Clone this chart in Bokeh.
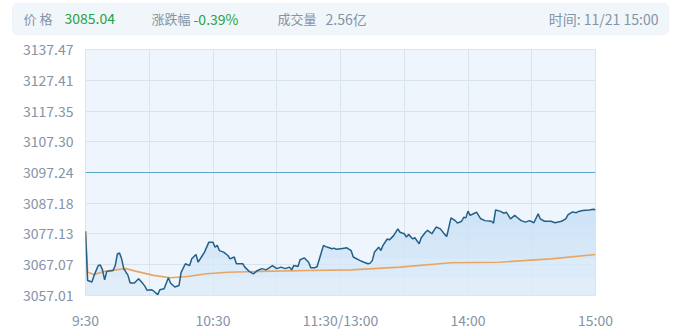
import numpy as np
from bokeh.plotting import figure
from bokeh.models import FixedTicker, Label, BoxAnnotation, Range1d, Span
from bokeh.layouts import column
from bokeh.embed import file_html
from bokeh.resources import INLINE

# ---------------- data ----------------
prev_close = 3097.24
y_ticks = [3057.01, 3067.07, 3077.13, 3087.18, 3097.24, 3107.30, 3117.35, 3127.41, 3137.47]
y_tick_labels = ["3057.01", "3067.07", "3077.13", "3087.18", "3097.24", "3107.30", "3117.35", "3127.41", "3137.47"]
pct_labels = ["-1.30%", "-0.97%", "-0.65%", "-0.32%", "0.00%", "+0.32%", "+0.65%", "+0.97%", "+1.30%"]
x_ticks = [0, 60, 120, 180, 240]
x_tick_labels = ["9:30", "10:30", "11:30/13:00", "14:00", "15:00"]
grid_minutes = [0, 30, 60, 90, 120, 150, 180, 210, 240]

price_minute = [
    0, 1, 3, 4, 6, 7, 8, 9, 10, 13,
    14, 15, 16, 17, 18, 20, 21, 23, 25, 27,
    28, 29, 31, 32, 34, 35, 37, 39, 40, 42,
    44, 45, 47, 49, 50, 52, 53, 55, 56, 58,
    60, 61, 62, 63, 65, 67, 68, 70, 71, 74,
    75, 77, 79, 81, 83, 85, 88, 90, 92, 94,
    96, 97, 98, 100, 101, 103, 105, 106, 108, 109,
    112, 113, 114, 116, 117, 118, 121, 123, 125, 126,
    129, 131, 133, 134, 135, 136, 138, 139, 140, 142,
    143, 145, 147, 148, 150, 151, 152, 154, 155, 157,
    158, 160, 161, 163, 164, 165, 167, 169, 170, 171,
    172, 174, 175, 177, 178, 179, 180, 181, 183, 184,
    186, 188, 191, 192, 193, 195, 197, 198, 199, 200,
    202, 203, 205, 207, 209, 211, 213, 214, 216, 219,
    221, 224, 226, 227, 229, 231, 232, 234, 237, 239,
    240,
]
price_value = [
    3078.0, 3061.9, 3061.4, 3063.5, 3066.8, 3067.0, 3065.4, 3062.1, 3064.9, 3065.2,
    3066.8, 3070.6, 3070.9, 3069.0, 3065.8, 3063.6, 3061.1, 3061.1, 3062.5, 3060.9,
    3060.0, 3058.7, 3058.9, 3058.5, 3057.3, 3058.9, 3059.2, 3062.8, 3061.1, 3059.8,
    3060.3, 3064.6, 3067.4, 3066.8, 3069.0, 3070.4, 3067.9, 3070.1, 3071.2, 3074.4,
    3074.4, 3072.8, 3073.4, 3071.7, 3071.2, 3070.1, 3069.0, 3069.6, 3067.4, 3067.4,
    3066.3, 3064.9, 3064.1, 3065.2, 3065.8, 3065.4, 3066.8, 3065.8, 3066.3, 3065.8,
    3066.3, 3065.4, 3066.8, 3066.5, 3068.7, 3069.3, 3067.9, 3066.1, 3066.1, 3066.5,
    3073.4, 3073.0, 3072.8, 3072.3, 3072.5, 3072.1, 3072.4, 3072.6, 3071.7, 3069.6,
    3068.5, 3067.9, 3067.4, 3067.6, 3068.5, 3071.2, 3072.8, 3071.7, 3073.4, 3075.5,
    3075.2, 3076.6, 3078.8, 3077.7, 3077.2, 3076.1, 3077.0, 3075.5, 3075.9, 3073.9,
    3075.9, 3077.7, 3078.3, 3077.2, 3078.3, 3079.4, 3078.8, 3077.0, 3076.3, 3079.4,
    3082.4, 3081.5, 3080.7, 3081.3, 3082.6, 3082.4, 3084.6, 3083.2, 3083.9, 3084.3,
    3082.1, 3081.5, 3081.3, 3080.7, 3085.0, 3084.6, 3083.9, 3084.3, 3083.2, 3082.1,
    3083.2, 3082.6, 3081.5, 3081.0, 3081.5, 3080.8, 3083.7, 3082.1, 3081.3, 3081.3,
    3080.8, 3081.3, 3082.1, 3083.4, 3084.3, 3084.1, 3084.5, 3084.8, 3085.0, 3085.2,
    3085.04,
]

avg_minute = [0, 1, 4, 9, 14, 19, 24, 32, 40, 48, 57, 67, 82, 105, 125, 148, 172, 195, 219, 240]
avg_value = [3078.0, 3064.6, 3063.9, 3064.9, 3065.4, 3065.8, 3064.9, 3063.6, 3062.8, 3063.2,
             3064.1, 3064.6, 3064.9, 3065.2, 3065.4, 3066.3, 3067.7, 3067.9, 3069.0, 3070.4]

header_price = "3085.04"
header_change = "-0.39%"
header_volume = "2.56亿"
header_time = "时间: 11/21 15:00"

assert len(price_minute) == len(price_value)

# ---------------- styles ----------------
FONT = "Noto Sans CJK SC"
FS = "14px"
GRAY = "#8593a6"
GREEN = "#27a243"
RED = "#d0384b"

# ---------------- header ----------------
hp = figure(width=680, height=38, x_range=Range1d(0, 680), y_range=Range1d(0, 38),
            toolbar_location=None, output_backend="svg",
            x_axis_location=None, y_axis_location=None, min_border=0)
hp.frame_align = False
hp.grid.visible = False
hp.outline_line_color = None
hp.background_fill_color = "white"
hp.border_fill_color = "white"
hp.add_layout(BoxAnnotation(left=12, right=668, bottom=4, top=35,
                            fill_color="#f1f6fb", fill_alpha=1.0,
                            line_color="#dbe5f0", line_width=1, border_radius=5))


def hlabel(x, text, color, align="left", size=FS):
    hp.add_layout(Label(x=x, y=20, text=text, text_color=color, text_font=FONT,
                        text_font_size=size, text_baseline="middle", text_align=align))


hlabel(23, "价 格", GRAY, size="13px")
hlabel(64, header_price, GREEN)
hlabel(151, "涨跌幅", GRAY, size="13px")
hlabel(193, header_change, GREEN)
hlabel(277, "成交量", GRAY, size="13px")
hlabel(325, header_volume, GRAY)
hlabel(658, header_time, GRAY, align="right")

# ---------------- main chart ----------------
p = figure(width=680, height=298, x_range=Range1d(0, 240),
           y_range=Range1d(y_ticks[0], y_ticks[-1]),
           toolbar_location=None, output_backend="svg",
           min_border_left=85, min_border_right=85, min_border_top=11, min_border_bottom=41)
p.frame_align = False
p.background_fill_color = "#eef5fc"
p.border_fill_color = "white"
p.outline_line_color = "#dbe5ef"

p.xgrid.ticker = FixedTicker(ticks=grid_minutes)
p.ygrid.ticker = FixedTicker(ticks=y_ticks)
p.grid.grid_line_color = "#dae4ee"
p.grid.grid_line_width = 1

for ax in (p.xaxis[0], p.yaxis[0]):
    ax.axis_line_color = None
    ax.major_tick_line_color = None
    ax.minor_tick_line_color = None
    ax.major_tick_in = 0
    ax.major_tick_out = 0
    ax.major_label_text_color = GRAY
    ax.major_label_text_font = FONT
    ax.major_label_text_font_size = FS

p.xaxis.ticker = FixedTicker(ticks=x_ticks)
p.xaxis.major_label_overrides = {t: l for t, l in zip(x_ticks, x_tick_labels)}
p.xaxis.major_label_standoff = 14
p.yaxis.ticker = FixedTicker(ticks=y_ticks)
p.yaxis.major_label_overrides = {t: l for t, l in zip(y_ticks, y_tick_labels)}
p.yaxis.major_label_standoff = 12

# area fill (layered for a soft vertical gradient)
px = np.array(price_minute, dtype=float)
pv = np.array(price_value, dtype=float)
bottom = y_ticks[0]
p.varea(x=px, y1=np.full_like(pv, bottom), y2=pv, fill_color="#dcebf9", fill_alpha=0.7)
for lvl in (3063.0, 3069.0, 3075.0, 3080.0):
    p.varea(x=px, y1=np.full_like(pv, lvl), y2=np.maximum(pv, lvl),
            fill_color="#c4ddf4", fill_alpha=0.18)

# previous close reference line
p.add_layout(Span(location=prev_close, dimension="width", line_color="#5aa6cf", line_width=1.2))

# average price line
p.line(avg_minute, avg_value, line_color="#e9a562", line_width=1.6)
# price line
p.line(price_minute, price_value, line_color="#236089", line_width=1.5)

# right percentage labels
for yv, txt in zip(y_ticks, pct_labels):
    if txt.startswith("+"):
        c = RED
    elif txt.startswith("-"):
        c = GREEN
    else:
        c = GRAY
    p.add_layout(Label(x=240, y=yv, x_offset=12, text=txt, text_color=c, text_font=FONT,
                       text_font_size=FS, text_baseline="middle", text_align="left"))

layout = column(hp, p, spacing=0)
open("out.html", "w").write(file_html(layout, INLINE))
